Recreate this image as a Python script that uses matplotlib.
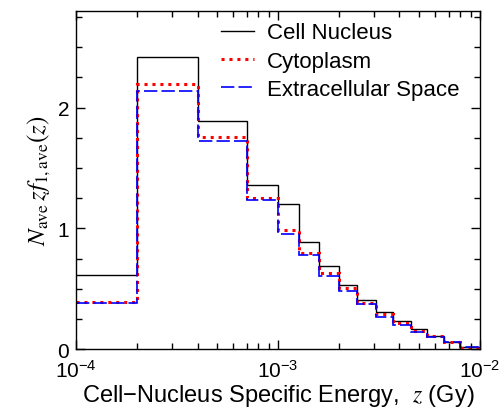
import numpy as np
import matplotlib.pyplot as plt
from matplotlib.ticker import MultipleLocator, LogLocator, NullFormatter

plt.rcParams['font.family'] = ['Liberation Sans', 'DejaVu Sans']
plt.rcParams['mathtext.fontset'] = 'stix'

# Bin edges (Gy) and histogram heights
edges = [1e-4, 2e-4, 4e-4, 7e-4, 1e-3, 1.27e-3, 1.6e-3, 2e-3, 2.47e-3,
         3.05e-3, 3.72e-3, 4.54e-3, 5.5e-3, 6.66e-3, 8.02e-3, 1e-2]
nucleus = [0.615, 2.417, 1.887, 1.355, 1.203, 0.883, 0.687, 0.532, 0.405,
           0.309, 0.229, 0.163, 0.11, 0.06, 0.014]
cytoplasm = [0.39, 2.196, 1.752, 1.255, 0.983, 0.797, 0.629, 0.502, 0.382,
             0.295, 0.213, 0.152, 0.105, 0.062, 0.012]
extracell = [0.378, 2.14, 1.724, 1.233, 0.955, 0.778, 0.602, 0.48, 0.37,
             0.27, 0.199, 0.146, 0.099, 0.058, 0.017]

fig = plt.figure(figsize=(5.04, 4.10), dpi=100)
ax = fig.add_axes([0.151, 0.146, 0.801, 0.825])

ax.stairs(nucleus, edges, baseline=None, color='black', lw=1.0,
          label='Cell Nucleus')
ax.stairs(cytoplasm, edges, baseline=None, color='red', lw=2.2,
          linestyle=(0, (1, 1.6)), label='Cytoplasm')
ax.stairs(extracell, edges, baseline=None, color='blue', lw=1.2,
          linestyle=(0, (8, 2.5)), label='Extracellular Space')

ax.set_xscale('log')
ax.set_xlim(1e-4, 1e-2)
ax.set_ylim(0, 2.8)
ax.yaxis.set_major_locator(MultipleLocator(1))
ax.yaxis.set_minor_locator(MultipleLocator(0.25))
ax.xaxis.set_major_locator(LogLocator(base=10, numticks=5))
ax.xaxis.set_minor_locator(LogLocator(base=10, subs=np.arange(2, 10), numticks=20))
ax.xaxis.set_minor_formatter(NullFormatter())

ax.tick_params(which='both', direction='in', top=True, right=True,
               labelsize=15, width=1)
ax.tick_params(axis='x', which='major', pad=7)
ax.tick_params(axis='y', which='major', pad=5)
ax.tick_params(which='major', length=6.5)
ax.tick_params(which='minor', length=4)
for s in ax.spines.values():
    s.set_linewidth(1.0)

ax.set_xlabel('Cell\u2212Nucleus Specific Energy,  $z$ (Gy)', fontsize=17,
              labelpad=1)
ax.set_ylabel(r'$N_{\rm ave}\,zf_{1,\rm ave}(z)$', fontsize=18, labelpad=3)

ax.legend(loc='upper right', bbox_to_anchor=(1.0, 1.025), frameon=False,
          fontsize=16, handlelength=1.5, handletextpad=0.6,
          labelspacing=0.33, borderaxespad=0.5)

fig.savefig('out.png', dpi=100)
